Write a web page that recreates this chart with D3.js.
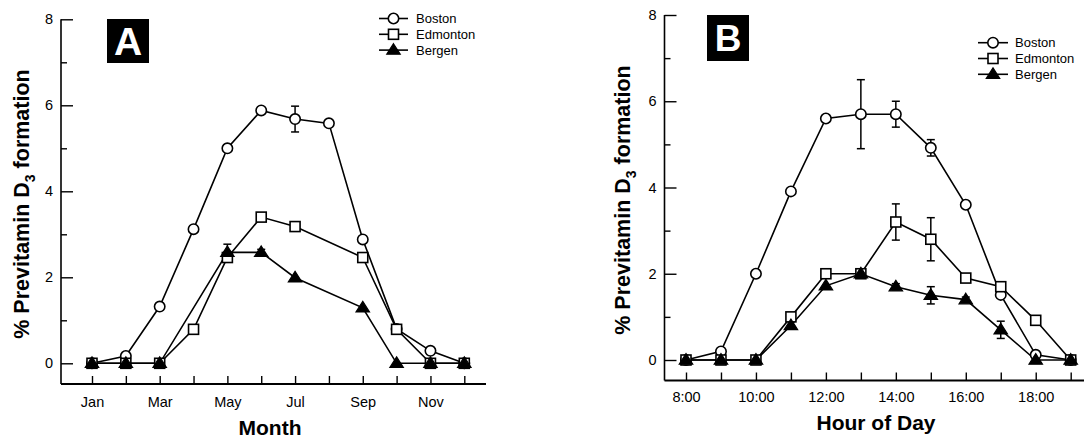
<!DOCTYPE html>
<html><head><meta charset="utf-8">
<script src="https://cdn.jsdelivr.net/npm/d3@7"></script>
<style>
html,body{margin:0;padding:0;background:#fff;}
svg{display:block;font-family:"Liberation Sans",Arial,Helvetica,sans-serif;}
</style></head>
<body>
<svg id="chart" width="1084" height="442"></svg>
<script>
// ---------- Panel A data (months) ----------
const monthsA = [1,2,3,4,5,6,7,8,9,10,11,12];
const monthLabels = ["Jan","","Mar","","May","","Jul","","Sep","","Nov",""];
const bostonA    = [0, 0.17, 1.32, 3.12, 5.0, 5.88, 5.68, 5.58, 2.88, 0.8, 0.29, 0];
const bostonAErr = [0, 0, 0, 0, 0, 0, 0.3, 0, 0, 0, 0, 0];
const edmontonA    = [0, 0, 0, 0.79, 2.46, 3.4, 3.18, null, 2.46, 0.79, 0, 0];
const edmontonAErr = [0, 0, 0, 0, 0, 0, 0, 0, 0, 0, 0, 0];
const bergenA    = [0, 0, 0, null, 2.58, 2.58, 1.99, null, 1.29, 0, 0, 0];
const bergenAErr = [0, 0, 0, 0, 0.19, 0.07, 0, 0, 0, 0, 0, 0];

// ---------- Panel B data (hour of day) ----------
const hoursB = [8,9,10,11,12,13,14,15,16,17,18,19];
const hourTicks = [8,10,12,14,16,18];
const bostonB    = [0, 0.2, 2.0, 3.91, 5.6, 5.7, 5.7, 4.92, 3.6, 1.51, 0.12, 0];
const bostonBErr = [0, 0, 0, 0, 0, 0.8, 0.3, 0.19, 0, 0, 0, 0];
const edmontonB    = [0, 0, 0, 1.0, 2.0, 2.0, 3.2, 2.8, 1.9, 1.7, 0.92, 0];
const edmontonBErr = [0, 0, 0, 0, 0, 0, 0.42, 0.5, 0, 0, 0, 0];
const bergenB    = [0, 0, 0, 0.8, 1.72, 2.0, 1.7, 1.5, 1.4, 0.7, 0, 0];
const bergenBErr = [0, 0, 0, 0, 0, 0.05, 0.07, 0.2, 0.06, 0.2, 0, 0];

const yMajor = [0,2,4,6,8];
const yMinor = [1,3,5,7];
const seriesNames = ["Boston","Edmonton","Bergen"];
const seriesShapes = ["circle","square","triangle"];

const svg = d3.select("#chart");

function marker(g, shape, x, y){
  if(shape==="circle"){
    g.append("circle").attr("cx",x).attr("cy",y).attr("r",5.2)
      .attr("fill","#fff").attr("stroke","#000").attr("stroke-width",1.6);
  } else if(shape==="square"){
    g.append("rect").attr("x",x-5).attr("y",y-5).attr("width",10).attr("height",10)
      .attr("fill","#fff").attr("stroke","#000").attr("stroke-width",1.6);
  } else {
    const s=6.4;
    g.append("path").attr("d",`M${x},${y-s}L${x+s*1.05},${y+s*0.65}L${x-s*1.05},${y+s*0.65}Z`)
      .attr("fill","#000").attr("stroke","#000").attr("stroke-width",1.2);
  }
}

function panel(cfg){
  const g = svg.append("g");
  const x = d3.scaleLinear().domain(cfg.xDomain).range(cfg.xRange);
  const y = d3.scaleLinear().domain([0,8]).range(cfg.yRange);

  g.append("line").attr("x1",cfg.axisX).attr("x2",cfg.axisX).attr("y1",y(8)).attr("y2",cfg.axisY)
    .attr("stroke","#000").attr("stroke-width",1.6);
  g.append("line").attr("x1",cfg.axisX).attr("x2",cfg.xEnd).attr("y1",cfg.axisY).attr("y2",cfg.axisY)
    .attr("stroke","#000").attr("stroke-width",1.8);

  const yAx = g.append("g").attr("transform",`translate(${cfg.axisX},0)`)
    .call(d3.axisLeft(y).tickValues(yMajor).tickSize(-12).tickPadding(cfg.yPad).tickFormat(d3.format("d")));
  const yAxMin = g.append("g").attr("transform",`translate(${cfg.axisX},0)`)
    .call(d3.axisLeft(y).tickValues(yMinor).tickSize(-6).tickFormat(""));
  [yAx,yAxMin].forEach(a=>{a.select(".domain").remove();
    a.selectAll("line").attr("stroke","#000").attr("stroke-width",1.4);
    a.selectAll("text").attr("font-size",14.5).attr("font-family","Liberation Sans, Arial, sans-serif").attr("fill","#000");});

  const xAx = g.append("g").attr("transform",`translate(0,${cfg.axisY})`)
    .call(d3.axisBottom(x).tickValues(cfg.xTicks).tickSize(-8).tickPadding(cfg.xPad).tickFormat(cfg.xFormat));
  xAx.select(".domain").remove();
  xAx.selectAll("line").attr("stroke","#000").attr("stroke-width",1.4);
  xAx.selectAll("text").attr("font-size",14.5).attr("font-family","Liberation Sans, Arial, sans-serif").attr("fill","#000");

  g.append("text").attr("x",cfg.xTitleX).attr("y",cfg.xTitleY).attr("text-anchor","middle")
    .attr("font-size",21).attr("font-weight","bold").text(cfg.xTitle);
  const yt = g.append("text").attr("transform",`translate(${cfg.yTitleX},${cfg.yTitleY}) rotate(-90)`)
    .attr("text-anchor","middle").attr("font-size",21.5).attr("font-weight","bold");
  yt.append("tspan").text("% Previtamin D");
  yt.append("tspan").attr("font-size",14).attr("dy",6).text("3");
  yt.append("tspan").attr("dy",-6).text(" formation");

  g.append("rect").attr("x",cfg.box[0]).attr("y",cfg.box[1]).attr("width",cfg.box[2]).attr("height",cfg.box[3]).attr("fill","#000");
  g.append("text").attr("x",cfg.box[0]+cfg.box[2]/2).attr("y",cfg.box[1]+cfg.box[3]/2+cfg.letterSize*0.36)
    .attr("text-anchor","middle").attr("font-size",cfg.letterSize).attr("font-weight","bold").attr("fill","#fff").text(cfg.letter);

  const line = d3.line().x(d=>x(d.x)).y(d=>y(d.v));
  cfg.series.forEach((s,i)=>{
    const pts = cfg.xs.map((xv,k)=>({x:xv,v:s.vals[k],e:s.errs[k]})).filter(d=>d.v!==null);
    g.append("path").attr("d",line(pts)).attr("fill","none").attr("stroke","#000").attr("stroke-width",1.6);
    pts.filter(d=>d.e>0).forEach(d=>{
      const cx=x(d.x), y1=y(d.v+d.e), y2=y(d.v-d.e);
      g.append("line").attr("x1",cx).attr("x2",cx).attr("y1",y1).attr("y2",y2).attr("stroke","#000").attr("stroke-width",1.5);
      [y1,y2].forEach(yy=>g.append("line").attr("x1",cx-4).attr("x2",cx+4).attr("y1",yy).attr("y2",yy).attr("stroke","#000").attr("stroke-width",1.5));
    });
  });
  cfg.series.forEach((s,i)=>{
    const pts = cfg.xs.map((xv,k)=>({x:xv,v:s.vals[k]})).filter(d=>d.v!==null);
    pts.forEach(d=>marker(g, seriesShapes[i], x(d.x), y(d.v)));
  });

  seriesNames.forEach((n,i)=>{
    const ly = cfg.legY + i*cfg.legStep;
    g.append("line").attr("x1",cfg.legX1).attr("x2",cfg.legX2).attr("y1",ly).attr("y2",ly).attr("stroke","#000").attr("stroke-width",1.6);
    marker(g, seriesShapes[i], (cfg.legX1+cfg.legX2)/2, ly);
    g.append("text").attr("x",cfg.legText).attr("y",ly+4.5).attr("font-size",13).text(n);
  });
}

panel({
  xDomain:[1,12], xRange:[92,464.3], yRange:[363.3,19.3],
  axisX:61, axisY:384, xEnd:486,
  yPad:8, xPad:13,
  xTicks: monthsA, xFormat:(d,i)=>monthLabels[i],
  xTitle:"Month", xTitleX:270, xTitleY:435,
  yTitleX:29, yTitleY:204,
  box:[107,19,42,44], letter:"A", letterSize:39,
  xs: monthsA,
  series:[{vals:bostonA,errs:bostonAErr},{vals:edmontonA,errs:edmontonAErr},{vals:bergenA,errs:bergenAErr}],
  legX1:379, legX2:408, legY:18.5, legStep:15.8, legText:416
});

panel({
  xDomain:[8,19], xRange:[686,1070.7], yRange:[360,15],
  axisX:664.5, axisY:380.5, xEnd:1084,
  yPad:8, xPad:11.5,
  xTicks: hoursB, xFormat:(d)=> hourTicks.includes(d) ? d+":00" : "",
  xTitle:"Hour of Day", xTitleX:876, xTitleY:430,
  yTitleX:630, yTitleY:200,
  box:[707,15,42,46], letter:"B", letterSize:37,
  xs: hoursB,
  series:[{vals:bostonB,errs:bostonBErr},{vals:edmontonB,errs:edmontonBErr},{vals:bergenB,errs:bergenBErr}],
  legX1:978, legX2:1008, legY:42.7, legStep:15.8, legText:1015
});
</script>
</body></html>
